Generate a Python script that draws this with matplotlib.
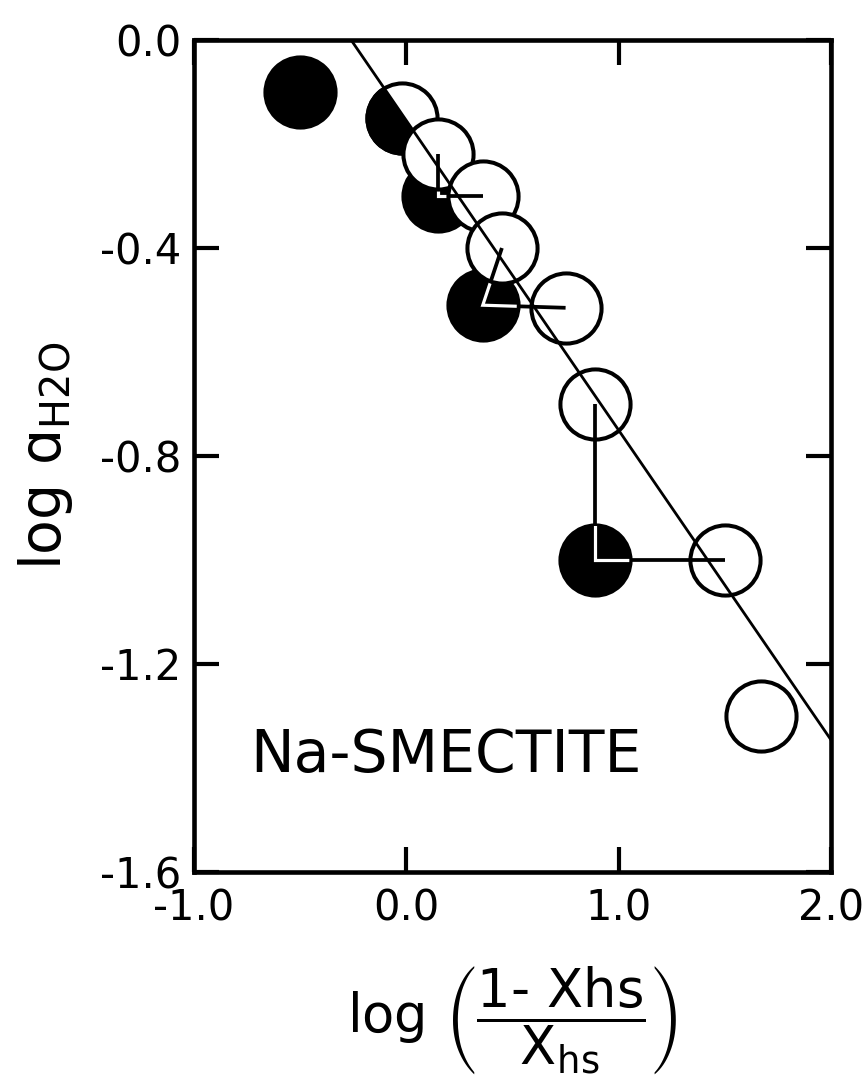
import matplotlib
matplotlib.use("Agg")
import matplotlib.pyplot as plt
import matplotlib.transforms as mtransforms
from matplotlib.patches import Circle, Polygon

# filled points (one coordinate pair per measurement)
closed_x = [-0.50, 0.15, 0.36, 0.89]
closed_y = [-0.10, -0.30, -0.51, -1.00]
# open points
open_x = [0.15, 0.36, 0.45, 0.75, 0.89, 1.50, 1.67]
open_y = [-0.22, -0.30, -0.40, -0.515, -0.70, -1.00, -1.30]
# point drawn half filled (filled and open symbols coincide)
half_x = [-0.02]
half_y = [-0.15]
# fitted line end points
fit_x = [-0.26, 2.0]
fit_y = [0.0, -1.346]
# L-shaped links: (open point above, filled point, open point to the right)
links = [(0, 1, 1), (2, 2, 3), (4, 3, 5)]

x_ticks = [-1.0, 0.0, 1.0, 2.0]
x_labels = ["-1.0", "0.0", "1.0", "2.0"]
y_ticks = [0.0, -0.4, -0.8, -1.2, -1.6]
y_labels = ["0.0", "-0.4", "-0.8", "-1.2", "-1.6"]

MS = 50.5
MEW = 2.9
LW = 2.7

fig = plt.figure(figsize=(8.66, 10.87), dpi=100)
ax = fig.add_axes([0.224, 0.1978, 0.7356, 0.7654])
ax.set_xlim(-1.0, 2.0)
ax.set_ylim(-1.6, 0.0)


def disc(x, y, radius_pt):
    trans = fig.dpi_scale_trans + mtransforms.ScaledTranslation(x, y, ax.transData)
    return Circle((0, 0), radius_pt / 72.0, transform=trans)


for ia, ic, ib in links:
    xs = [open_x[ia], closed_x[ic], open_x[ib]]
    ys = [open_y[ia], closed_y[ic], open_y[ib]]
    ax.plot(xs, ys, color="black", lw=LW, solid_joinstyle="miter",
            solid_capstyle="butt", zorder=1)
    white, = ax.plot(xs, ys, color="white", lw=LW * 0.85, solid_joinstyle="miter",
                     solid_capstyle="butt", zorder=2.2)
    white.set_clip_path(disc(closed_x[ic], closed_y[ic], 24.5))
    seg_a, = ax.plot(xs[:2], ys[:2], color="black", lw=LW, solid_capstyle="butt", zorder=3.5)
    seg_a.set_clip_path(disc(open_x[ia], open_y[ia], 24.5))
    seg_b, = ax.plot(xs[1:], ys[1:], color="black", lw=LW, solid_capstyle="butt", zorder=3.5)
    seg_b.set_clip_path(disc(open_x[ib], open_y[ib], 24.5))

ax.plot(closed_x, closed_y, "o", ms=MS, mfc="black", mec="black", mew=MEW, zorder=2)

ax.plot(half_x, half_y, "o", ms=MS, mfc="white", mec="black", mew=MEW, zorder=2.4)
half_black, = ax.plot(half_x, half_y, "o", ms=MS, mfc="black", mec="black", mew=MEW, zorder=2.45)
slope = (fit_y[1] - fit_y[0]) / (fit_x[1] - fit_x[0])
x0, x1 = -1.0, 2.0
below = Polygon([(x0, fit_y[0] + slope * (x0 - fit_x[0])),
                 (x1, fit_y[0] + slope * (x1 - fit_x[0])),
                 (x1, -3.0), (x0, -3.0)], closed=True, transform=ax.transData)
half_black.set_clip_path(below)

ax.plot(open_x, open_y, "o", ms=MS, mfc="white", mec="black", mew=MEW, zorder=3)

ax.plot(fit_x, fit_y, color="black", lw=2.0, zorder=5)

ax.text(-0.736, -1.408, "Na-SMECTITE", fontsize=42, ha="left", va="baseline", zorder=6)

ax.set_xticks(x_ticks)
ax.set_xticklabels(x_labels)
ax.set_yticks(y_ticks)
ax.set_yticklabels(y_labels)
ax.tick_params(direction="in", length=18, width=3.0, labelsize=30,
               top=True, right=True, pad=9)
ax.tick_params(axis="x", pad=11)
for spine in ax.spines.values():
    spine.set_linewidth(3.3)

ax.set_ylabel(r"log ɑ$_{\mathregular{H2O}}$", fontsize=41, labelpad=18)
ax.set_xlabel("log $\\left(\\dfrac{\\mathregular{1\u2010\\ Xhs}}{\\mathregular{X_{hs}}}\\right)$",
              fontsize=38, labelpad=25)

fig.savefig("out.png", dpi=100)
